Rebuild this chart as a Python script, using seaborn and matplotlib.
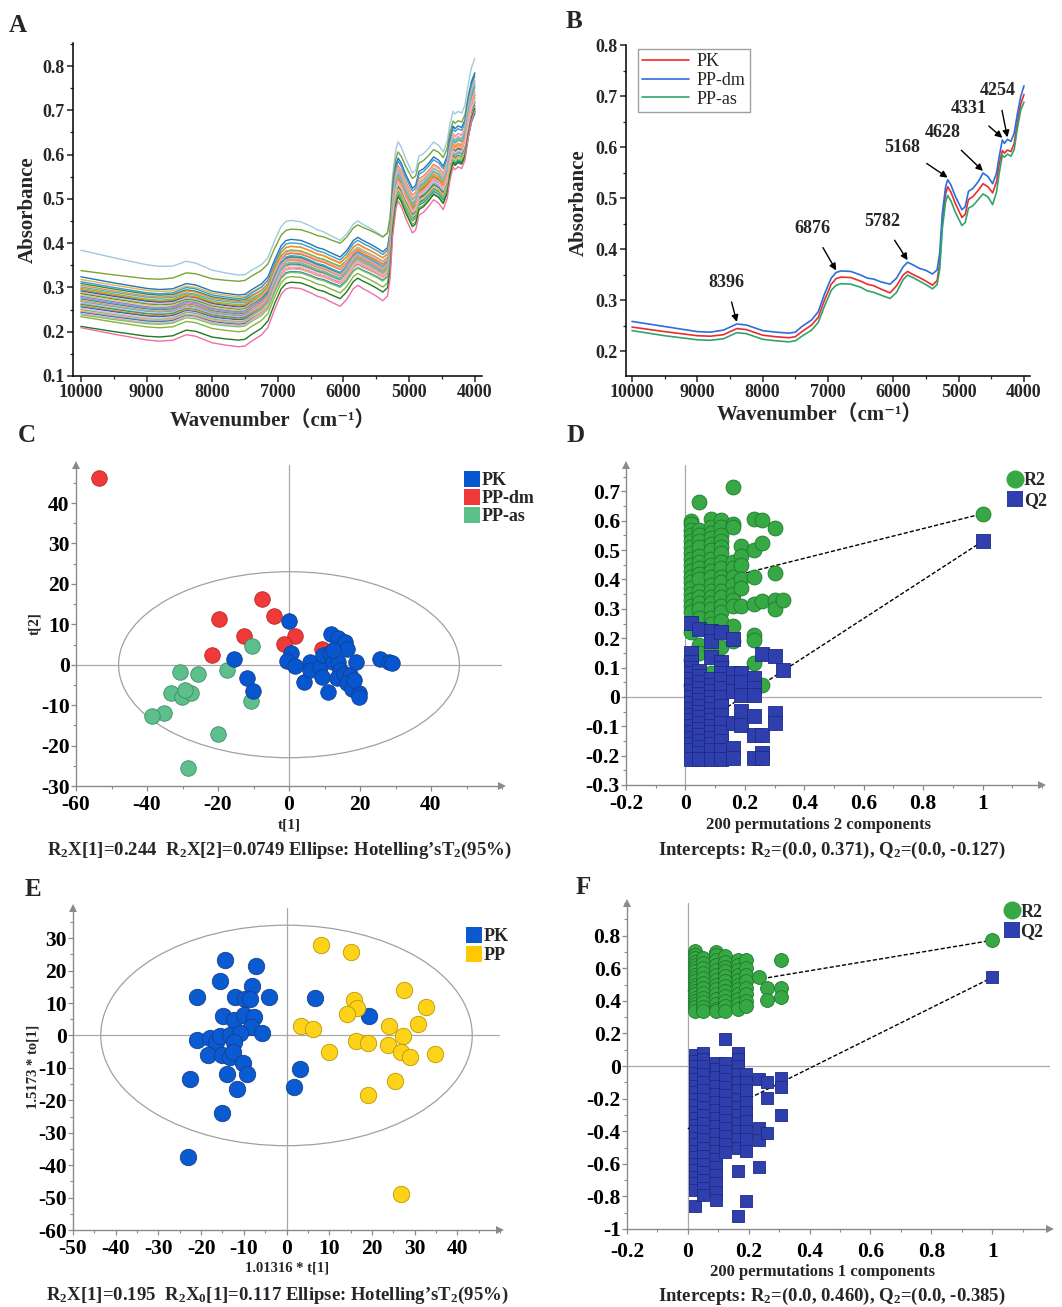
import numpy as np
import pandas as pd
import matplotlib
matplotlib.use("Agg")
import matplotlib.pyplot as plt
import seaborn as sns
from matplotlib.patches import Ellipse
from matplotlib.lines import Line2D
from matplotlib.ticker import MultipleLocator, FixedLocator, FuncFormatter

# ---------------- data ----------------
# wavenumber grid (cm-1) used for the spectra
wavenumber = [10000, 9500, 9000, 8800, 8600, 8396, 8250, 8000, 7800, 7600, 7500, 7400,
              7250, 7150, 7050, 6950, 6876, 6800, 6650, 6500, 6400, 6300, 6200, 6050,
              5950, 5850, 5782, 5700, 5600, 5500, 5400, 5330, 5290, 5250, 5200, 5168,
              5120, 5050, 4950, 4900, 4850, 4780, 4700, 4628, 4550, 4480, 4420, 4380,
              4331, 4300, 4254, 4200, 4150, 4100, 4050, 4000]

# panel B mean spectra
spec_pk = [0.247, 0.238, 0.230, 0.229, 0.232, 0.244, 0.242, 0.231, 0.228, 0.226, 0.228, 0.238,
           0.251, 0.266, 0.301, 0.331, 0.342, 0.345, 0.344, 0.337, 0.331, 0.328, 0.322, 0.314,
           0.328, 0.349, 0.356, 0.350, 0.344, 0.337, 0.329, 0.338, 0.372, 0.455, 0.508, 0.522,
           0.512, 0.489, 0.462, 0.468, 0.497, 0.503, 0.515, 0.528, 0.522, 0.510, 0.532, 0.566,
           0.593, 0.588, 0.594, 0.591, 0.607, 0.650, 0.684, 0.703]
spec_dm = [0.258, 0.248, 0.238, 0.237, 0.241, 0.253, 0.251, 0.240, 0.237, 0.235, 0.237, 0.248,
           0.261, 0.277, 0.313, 0.343, 0.354, 0.357, 0.356, 0.349, 0.343, 0.341, 0.336, 0.331,
           0.343, 0.365, 0.374, 0.369, 0.362, 0.358, 0.351, 0.359, 0.392, 0.470, 0.522, 0.536,
           0.526, 0.503, 0.477, 0.483, 0.513, 0.519, 0.532, 0.549, 0.542, 0.528, 0.549, 0.581,
           0.614, 0.607, 0.615, 0.611, 0.627, 0.666, 0.699, 0.720]
spec_as = [0.240, 0.230, 0.222, 0.221, 0.224, 0.236, 0.234, 0.223, 0.220, 0.218, 0.220, 0.229,
           0.241, 0.256, 0.289, 0.319, 0.329, 0.332, 0.331, 0.325, 0.318, 0.315, 0.310, 0.303,
           0.315, 0.340, 0.349, 0.344, 0.337, 0.330, 0.322, 0.330, 0.360, 0.440, 0.492, 0.505,
           0.495, 0.472, 0.446, 0.452, 0.480, 0.485, 0.497, 0.508, 0.502, 0.487, 0.512, 0.548,
           0.584, 0.580, 0.586, 0.582, 0.595, 0.638, 0.672, 0.688]
b_peaks = [8396, 6876, 5782, 5168, 4628, 4331, 4254]

# panel A raw spectra: absorbance read at 10000, 7600 and 5168 cm-1 for each sample
a_at_10000 = [0.384, 0.338, 0.324, 0.318, 0.313, 0.309, 0.305, 0.301, 0.298, 0.295, 0.292,
              0.289, 0.286, 0.283, 0.280, 0.277, 0.274, 0.271, 0.268, 0.265, 0.262, 0.259,
              0.256, 0.253, 0.250, 0.247, 0.244, 0.241, 0.238, 0.234, 0.212, 0.209]
a_at_7600 = [0.328, 0.314, 0.283, 0.279, 0.275, 0.271, 0.268, 0.265, 0.261, 0.258, 0.256,
             0.253, 0.250, 0.248, 0.245, 0.243, 0.240, 0.238, 0.236, 0.233, 0.231, 0.229,
             0.227, 0.224, 0.222, 0.220, 0.217, 0.214, 0.211, 0.200, 0.181, 0.166]
a_at_5168 = [0.629, 0.606, 0.592, 0.560, 0.585, 0.548, 0.575, 0.540, 0.566, 0.553, 0.530,
             0.571, 0.545, 0.525, 0.558, 0.537, 0.520, 0.550, 0.533, 0.562, 0.528, 0.543,
             0.518, 0.535, 0.555, 0.522, 0.512, 0.540, 0.516, 0.508, 0.505, 0.495]
a_colors = ['#9ecae1', '#7aa435', '#1f77b4', '#e8b04e', '#3a9bd5', '#2e8b57', '#f28e2b',
            '#5fa8d3', '#7fbf3f', '#ff7f0e', '#1b6fa8', '#f4a3c0', '#2ca02c', '#f5c26b',
            '#4f9fd8', '#e377c2', '#17a2b8', '#ff9933', '#6baed6', '#c5b0d5', '#31a354',
            '#fd8d3c', '#2171b5', '#f7b6d2', '#66c2a5', '#fdae6b', '#3182bd', '#fa9fb5',
            '#74c476', '#8ab23c', '#1e7b1e', '#f06ea9']

# panel C PCA scores
c_pk_t1 = [-0.1, -15.4, -11.7, -10.2, 0.6, -0.5, 1.7, 4.3, 5.9, 5.9, 8.8, 9.2, 10.9, 9.7,
           11.8, 13.9, 15.8, 16.3, 11.6, 12.5, 13.9, 14.4, 13.5, 15.4, 17.2, 16.3, 17.7, 18.9,
           19.6, 19.8, 25.7, 28.1, 29.0, 18.2, 12.5]
c_pk_t2 = [10.8, 1.3, -3.2, -6.5, 2.8, 1.0, -0.3, -4.2, 0.7, -1.3, -0.5, -3.0, -6.7, 2.4,
           7.7, 6.5, 5.7, 4.0, 2.8, 0.7, 0.7, -1.3, -3.4, -2.2, -2.6, -4.6, -5.9, 0.7,
           -7.1, -7.9, 1.3, 0.7, 0.5, -3.8, 3.6]
c_dm_t1 = [-53.6, -7.7, -4.1, -19.6, -12.6, 1.7, -1.4, -21.6, 9.2]
c_dm_t2 = [46.3, 16.2, 12.1, 11.2, 7.1, 7.1, 5.1, 2.5, 3.9]
c_as_t1 = [-10.3, -17.5, -30.6, -25.7, -33.3, -30.2, -27.5, -29.3, -35.2, -38.7, -10.7,
           -19.9, -28.4]
c_as_t2 = [4.6, -1.3, -1.9, -2.2, -6.9, -7.9, -6.9, -6.3, -12.0, -12.7, -9.0, -17.2, -25.6]

# panel E OPLS-DA scores
e_pk_t1 = [-14.4, -7.2, -15.6, -8.1, -21.0, -12.0, -9.7, -8.5, -4.1, 6.7, -14.9, -12.4,
           -9.9, -7.6, -8.4, 19.3, -21.0, -17.9, -16.5, -15.6, -13.2, -10.9, -5.8, -12.4,
           -18.3, -15.2, -13.2, -12.6, -10.2, -14.0, -9.3, -22.6, -11.5, 3.2, 1.7, -15.0, -23.0]
e_pk_to1 = [23.3, 21.3, 16.9, 15.3, 12.0, 11.7, 11.2, 11.2, 11.7, 11.5, 6.1, 4.8, 6.3,
            5.6, 2.7, 6.0, -1.4, -0.9, -1.9, -0.3, 0.2, 0.9, 0.7, -1.9, -6.0, -6.0, -6.8,
            -5.0, -8.6, -11.9, -11.9, -13.4, -16.5, -10.3, -15.8, -23.8, -37.6]
e_pp_t1 = [8.1, 15.0, 27.5, 32.6, 15.9, 16.4, 14.2, 3.4, 6.3, 24.0, 30.8, 27.3, 9.9, 16.3,
           19.0, 23.8, 26.9, 29.0, 34.8, 25.5, 19.1, 26.9]
e_pp_to1 = [27.9, 25.6, 13.9, 8.9, 11.0, 8.4, 6.7, 3.0, 2.0, 3.0, 3.6, -0.1, -5.0, -1.6,
            -2.4, -3.1, -5.0, -6.7, -5.7, -14.2, -18.3, -48.9]

# panel D permutation test (2 components): y values grouped by correlation column
d_cols = [0.019, 0.047, 0.087, 0.12, 0.16, 0.188, 0.23, 0.258, 0.30, 0.33]
d_r2 = [[0.60, 0.59, 0.57, 0.55, 0.53, 0.51, 0.49, 0.47, 0.45, 0.43, 0.41, 0.39, 0.37, 0.35,
         0.33, 0.31, 0.29, 0.22, 0.127, 0.04],
        [0.663, 0.57, 0.55, 0.53, 0.51, 0.48, 0.46, 0.44, 0.42, 0.40, 0.36, 0.34, 0.32, 0.30,
         0.27, 0.178, 0.15],
        [0.606, 0.58, 0.56, 0.54, 0.52, 0.50, 0.47, 0.45, 0.43, 0.41, 0.38, 0.36, 0.34, 0.32,
         0.30, 0.27, 0.25, 0.16, 0.082],
        [0.604, 0.58, 0.55, 0.53, 0.51, 0.49, 0.46, 0.44, 0.41, 0.39, 0.36, 0.34, 0.31, 0.29,
         0.26, 0.17, 0.12],
        [0.715, 0.59, 0.58, 0.46, 0.44, 0.41, 0.38, 0.35, 0.33, 0.31, 0.24, 0.19],
        [0.513, 0.48, 0.45, 0.40, 0.37, 0.309],
        [0.606, 0.50, 0.41, 0.317, 0.212, 0.195, 0.116],
        [0.604, 0.524, 0.326, 0.042],
        [0.575, 0.422, 0.33, 0.30],
        [0.33]]
d_q2 = [[0.252, 0.15, 0.12, 0.10, 0.08, 0.06, 0.04, 0.02, 0.0, -0.02, -0.04, -0.06, -0.08,
         -0.10, -0.12, -0.14, -0.16, -0.18, -0.21],
        [0.23, 0.09, 0.07, 0.05, 0.03, 0.01, -0.01, -0.03, -0.05, -0.07, -0.09, -0.11, -0.13,
         -0.15, -0.17, -0.19, -0.21],
        [0.224, 0.19, 0.136, 0.06, 0.04, 0.02, 0.0, -0.02, -0.04, -0.06, -0.08, -0.10, -0.12,
         -0.14, -0.16, -0.18, -0.21],
        [0.22, 0.12, 0.10, 0.08, 0.06, 0.03, 0.0, -0.03, -0.06, -0.09, -0.12, -0.15, -0.18,
         -0.21],
        [0.198, 0.08, 0.05, 0.02, -0.088, -0.173, -0.207],
        [0.08, 0.05, 0.008, -0.048, -0.094],
        [0.065, 0.03, 0.008, -0.065, -0.128, -0.207],
        [0.147, -0.128, -0.19, -0.207],
        [0.139, -0.054, -0.088],
        [0.091]]
d_model = {'R2': 0.624, 'Q2': 0.530}
d_intercept = {'R2': 0.371, 'Q2': -0.127}

# panel F permutation test (1 component)
f_cols = [0.022, 0.049, 0.093, 0.122, 0.165, 0.192, 0.234, 0.261, 0.305]
f_r2 = [[0.704, 0.68, 0.66, 0.64, 0.62, 0.60, 0.58, 0.56, 0.54, 0.52, 0.50, 0.48, 0.46, 0.44,
         0.42, 0.40, 0.38, 0.36, 0.34],
        [0.66, 0.63, 0.60, 0.57, 0.54, 0.51, 0.48, 0.45, 0.42, 0.39, 0.36, 0.335],
        [0.70, 0.68, 0.65, 0.62, 0.59, 0.56, 0.53, 0.50, 0.47, 0.44, 0.41, 0.38, 0.35, 0.335],
        [0.673, 0.64, 0.61, 0.58, 0.55, 0.52, 0.49, 0.46, 0.43, 0.40, 0.37, 0.34],
        [0.649, 0.62, 0.59, 0.56, 0.53, 0.50, 0.47, 0.44, 0.41, 0.38, 0.35],
        [0.653, 0.60, 0.56, 0.52, 0.48, 0.44, 0.40, 0.37],
        [0.543],
        [0.476, 0.404],
        [0.649, 0.476, 0.424]]
f_q2 = [[0.067, 0.03, 0.0, -0.04, -0.08, -0.12, -0.16, -0.20, -0.24, -0.28, -0.32, -0.36,
         -0.40, -0.44, -0.48, -0.52, -0.56, -0.60, -0.64, -0.68, -0.72, -0.76, -0.861],
        [0.082, 0.04, 0.0, -0.05, -0.10, -0.15, -0.20, -0.25, -0.30, -0.35, -0.40, -0.45,
         -0.50, -0.55, -0.60, -0.65, -0.70, -0.75, -0.79],
        [0.02, -0.02, -0.07, -0.12, -0.17, -0.22, -0.27, -0.32, -0.37, -0.42, -0.47, -0.52,
         -0.57, -0.62, -0.67, -0.72, -0.77, -0.82],
        [0.163, 0.02, -0.03, -0.08, -0.13, -0.18, -0.23, -0.28, -0.33, -0.38, -0.43, -0.48,
         -0.53],
        [0.078, 0.04, 0.0, -0.05, -0.10, -0.15, -0.20, -0.25, -0.30, -0.35, -0.40, -0.45,
         -0.50, -0.647, -0.918],
        [-0.05, -0.10, -0.15, -0.22, -0.28, -0.34, -0.40, -0.45, -0.524, -0.83],
        [-0.082, -0.382, -0.453, -0.622],
        [-0.096, -0.198, -0.412],
        [-0.076, -0.127, -0.30]]
f_model = {'R2': 0.771, 'Q2': 0.543}
f_intercept = {'R2': 0.460, 'Q2': -0.385}

# ---------------- style ----------------
sns.set_style("ticks")
plt.rcParams['font.family'] = ['Liberation Serif', 'DejaVu Serif', 'Noto Sans CJK SC']
plt.rcParams['font.weight'] = 'bold'
plt.rcParams['axes.unicode_minus'] = False
plt.rcParams['mathtext.fontset'] = 'custom'
plt.rcParams['mathtext.rm'] = 'Liberation Serif:bold'
plt.rcParams['mathtext.it'] = 'Liberation Serif:bold'
plt.rcParams['mathtext.bf'] = 'Liberation Serif:bold'

W, H = 1062, 1307
fig = plt.figure(figsize=(W / 100, H / 100), dpi=100)


def box(l, t, r, b):
    return [l / W, 1 - b / H, (r - l) / W, (b - t) / H]


def ftext(x, y, s, **kw):
    kw.setdefault('ha', 'center')
    kw.setdefault('va', 'center')
    kw.setdefault('fontweight', 'bold')
    fig.text(x / W, 1 - y / H, s, **kw)


def gfmt(v, pos):
    v = round(v, 6)
    if v == 0:
        return '0'
    return f'{v:g}'


def spec_axes(ax):
    for s in ['top', 'right']:
        ax.spines[s].set_visible(False)
    for s in ['left', 'bottom']:
        ax.spines[s].set_color('black')
        ax.spines[s].set_linewidth(1.1)
    ax.xaxis.set_major_locator(MultipleLocator(1000))
    ax.xaxis.set_minor_locator(MultipleLocator(500))
    ax.yaxis.set_minor_locator(MultipleLocator(0.05))
    ax.xaxis.set_major_formatter(FuncFormatter(gfmt))
    ax.yaxis.set_major_formatter(FuncFormatter(gfmt))
    ax.tick_params(which='major', direction='out', length=4, width=1.1, labelsize=13, pad=2)
    ax.tick_params(which='minor', direction='out', length=2.5, width=0.9)
    ax.set_xlabel('')
    ax.set_ylabel('')


def arrow_axes(ax, xticks, xmin, yticks, ymin, xpad=3):
    for s in ['top', 'right']:
        ax.spines[s].set_visible(False)
    for s in ['left', 'bottom']:
        ax.spines[s].set_color('#8a8a8a')
        ax.spines[s].set_linewidth(1.0)
    ax.xaxis.set_major_locator(FixedLocator(xticks))
    ax.xaxis.set_minor_locator(MultipleLocator(xmin))
    ax.yaxis.set_major_locator(FixedLocator(yticks))
    ax.yaxis.set_minor_locator(MultipleLocator(ymin))
    ax.xaxis.set_major_formatter(FuncFormatter(gfmt))
    ax.yaxis.set_major_formatter(FuncFormatter(gfmt))
    ax.tick_params(which='major', direction='out', length=3.5, width=0.9, color='#8a8a8a',
                   labelsize=15.5, labelcolor='black', pad=1)
    ax.tick_params(axis='x', which='major', pad=xpad)
    ax.tick_params(which='minor', direction='out', length=2, width=0.8, color='#8a8a8a')
    ax.plot(1, 0, marker='>', transform=ax.transAxes, clip_on=False, color='#8a8a8a',
            ms=6, mew=0)
    ax.plot(0, 1, marker='^', transform=ax.transAxes, clip_on=False, color='#8a8a8a',
            ms=6, mew=0)
    ax.axhline(0, color='#a8a8a8', lw=0.9, zorder=0)
    ax.axvline(0, color='#a8a8a8', lw=0.9, zorder=0)
    ax.set_xlabel('')
    ax.set_ylabel('')


# ---------------- A: raw spectra ----------------
axA = fig.add_axes(box(73, 43, 482, 376))
base = np.array(spec_pk)
tilt = (np.array(wavenumber) - 4000) / 6000
idx = [wavenumber.index(10000), wavenumber.index(7600), wavenumber.index(5168)]
M = np.array([[1.0, base[i], tilt[i]] for i in idx])
frames = []
for k, vals in enumerate(zip(a_at_10000, a_at_7600, a_at_5168)):
    c0, c1, c2 = np.linalg.solve(M, np.array(vals))
    frames.append(pd.DataFrame({'wn': wavenumber, 'abs': c0 + c1 * base + c2 * tilt,
                                'sample': f's{k:02d}'}))
dfa = pd.concat(frames, ignore_index=True)
sns.lineplot(data=dfa, x='wn', y='abs', hue='sample', palette=a_colors, estimator=None,
             sort=False, legend=False, lw=1.0, ax=axA)
axA.set_xlim(10120, 3890)
axA.set_ylim(0.1, 0.852)
spec_axes(axA)

# ---------------- B: mean spectra ----------------
axB = fig.add_axes(box(626, 45, 1030, 376))
dfb = pd.concat([pd.DataFrame({'wn': wavenumber, 'abs': v, 'group': g})
                 for g, v in [('PK', spec_pk), ('PP-dm', spec_dm), ('PP-as', spec_as)]],
                ignore_index=True)
sns.lineplot(data=dfb, x='wn', y='abs', hue='group',
             palette={'PK': '#ee2b2b', 'PP-dm': '#2a6fdc', 'PP-as': '#2fa56d'},
             estimator=None, sort=False, lw=1.2, ax=axB)
axB.set_xlim(10092, 3908)
axB.set_ylim(0.151, 0.8)
spec_axes(axB)
sns.move_legend(axB, 'upper left', bbox_to_anchor=(0.02, 1.0), title=None, frameon=True,
                fancybox=False, edgecolor='#888888', prop={'weight': 'normal', 'size': 13},
                handlelength=2.6, handletextpad=0.4, labelspacing=0.1, borderpad=0.25,
                borderaxespad=0.2)
wn_rev = np.array(wavenumber[::-1])
dm_rev = np.array(spec_dm[::-1])
text_pos = [(8556, 0.335), (7245, 0.440), (6168, 0.454), (5862, 0.600), (5240, 0.628),
            (4842, 0.675), (4398, 0.711)]
for pk, (tx, ty) in zip(b_peaks, text_pos):
    tip = np.interp(pk, wn_rev, dm_rev) + 0.004
    axB.annotate(str(pk), xy=(pk, tip), xytext=(tx, ty), ha='center', va='center',
                 fontsize=13, fontweight='bold',
                 arrowprops=dict(arrowstyle='-|>', color='black', lw=1.0,
                                 mutation_scale=10, shrinkA=6, shrinkB=0))

# ---------------- C: PCA ----------------
axC = fig.add_axes(box(76, 465, 502, 786))
axC.add_patch(Ellipse((0, 0), 96, 46, fill=False, edgecolor='#a0a0a0', lw=0.9, zorder=0))
c_groups = [('PP-dm', c_dm_t1, c_dm_t2, '#f03a3a', '#b82424'),
            ('PP-as', c_as_t1, c_as_t2, '#5cbf8c', '#3c8f66'),
            ('PK', c_pk_t1, c_pk_t2, '#0656d0', '#163e8e')]
for name, xs, ys, fc, ec in c_groups:
    sns.scatterplot(x=xs, y=ys, color=fc, edgecolor=ec, linewidth=0.6, s=125, ax=axC,
                    zorder=3)
axC.set_xlim(-60, 60)
axC.set_ylim(-30, 49.4)
arrow_axes(axC, [-60, -40, -20, 0, 20, 40], 10, [-30, -20, -10, 0, 10, 20, 30, 40], 5)
axC.legend(handles=[Line2D([], [], ls='', marker='s', ms=12, color=c, mew=0)
                    for c in ['#0656d0', '#f03a3a', '#5cbf8c']],
           labels=['PK', 'PP-dm', 'PP-as'], loc='upper left', bbox_to_anchor=(0.895, 1.0),
           frameon=False, handlelength=0.8, handletextpad=0.15, labelspacing=0.05,
           borderaxespad=0.0, prop={'weight': 'bold', 'size': 13})

# ---------------- D: permutations (2 comps) ----------------
def perm_panel(ax, cols, r2, q2, model, intercept, ms):
    r2x = [c for c, ys in zip(cols, r2) for _ in ys] + [1.0]
    r2y = [y for ys in r2 for y in ys] + [model['R2']]
    q2x = [c for c, ys in zip(cols, q2) for _ in ys] + [1.0]
    q2y = [y for ys in q2 for y in ys] + [model['Q2']]
    for key in ['R2', 'Q2']:
        ax.plot([0, 1], [intercept[key], model[key]], ls=(0, (3, 1.5)), color='black',
                lw=1.0, zorder=1)
    sns.scatterplot(x=r2x, y=r2y, marker='o', color='#36a844', edgecolor='#1f7a2c',
                    linewidth=0.6, s=ms, ax=ax, zorder=2)
    sns.scatterplot(x=q2x, y=q2y, marker='s', color='#2f3fae', edgecolor='#1d2b85',
                    linewidth=0.6, s=ms * 0.85, ax=ax, zorder=3)


axD = fig.add_axes(box(626, 465, 1042, 785))
perm_panel(axD, d_cols, d_r2, d_q2, d_model, d_intercept, 115)
axD.set_xlim(-0.2, 1.2)
axD.set_ylim(-0.3, 0.79)
arrow_axes(axD, [-0.2, 0, 0.2, 0.4, 0.6, 0.8, 1.0], 0.1,
           [-0.3, -0.2, -0.1, 0, 0.1, 0.2, 0.3, 0.4, 0.5, 0.6, 0.7], 0.05)
axD.legend(handles=[Line2D([], [], ls='', marker='o', ms=13, color='#36a844', mew=0),
                    Line2D([], [], ls='', marker='s', ms=12, color='#2f3fae', mew=0)],
           labels=['R2', 'Q2'], loc='upper left', bbox_to_anchor=(0.9, 1.0),
           frameon=False, handlelength=0.8, handletextpad=0.1, labelspacing=0.15,
           borderaxespad=0.0, prop={'weight': 'bold', 'size': 13})

# ---------------- E: OPLS-DA ----------------
axE = fig.add_axes(box(73, 908, 500, 1230))
axE.add_patch(Ellipse((0, 0), 87, 68, fill=False, edgecolor='#a0a0a0', lw=0.9, zorder=0))
sns.scatterplot(x=e_pk_t1, y=e_pk_to1, color='#0a5ad2', edgecolor='#173f8c', linewidth=0.6,
                s=140, ax=axE, zorder=3)
sns.scatterplot(x=e_pp_t1, y=e_pp_to1, color='#ffd21a', edgecolor='#b99800', linewidth=0.6,
                s=140, ax=axE, zorder=3)
axE.set_xlim(-50, 50)
axE.set_ylim(-60, 39.3)
arrow_axes(axE, [-50, -40, -30, -20, -10, 0, 10, 20, 30, 40], 5,
           [-60, -50, -40, -30, -20, -10, 0, 10, 20, 30], 5)
axE.legend(handles=[Line2D([], [], ls='', marker='s', ms=12, color=c, mew=0)
                    for c in ['#0a5ad2', '#ffc800']],
           labels=['PK', 'PP'], loc='upper left', bbox_to_anchor=(0.905, 0.96),
           frameon=False, handlelength=0.8, handletextpad=0.15, labelspacing=0.1,
           borderaxespad=0.0, prop={'weight': 'bold', 'size': 13})

# ---------------- F: permutations (1 comp) ----------------
axF = fig.add_axes(box(627, 903, 1050, 1229))
perm_panel(axF, f_cols, f_r2, f_q2, f_model, f_intercept, 100)
axF.set_xlim(-0.2, 1.19)
axF.set_ylim(-1.0, 1.0)
arrow_axes(axF, [-0.2, 0, 0.2, 0.4, 0.6, 0.8, 1.0], 0.1,
           [-1.0, -0.8, -0.6, -0.4, -0.2, 0, 0.2, 0.4, 0.6, 0.8], 0.1, xpad=6)
axF.legend(handles=[Line2D([], [], ls='', marker='o', ms=13, color='#36a844', mew=0),
                    Line2D([], [], ls='', marker='s', ms=12, color='#2f3fae', mew=0)],
           labels=['R2', 'Q2'], loc='upper left', bbox_to_anchor=(0.875, 1.02),
           frameon=False, handlelength=0.8, handletextpad=0.1, labelspacing=0.15,
           borderaxespad=0.0, prop={'weight': 'bold', 'size': 13})

# ---------------- texts ----------------
for letter, x, y in [('A', 18, 25), ('B', 574, 21), ('C', 27, 436), ('D', 576, 435),
                     ('E', 33, 890), ('F', 583, 888)]:
    ftext(x, y, letter, fontsize=18)

ftext(28, 210, 'Absorbance', fontsize=15, rotation=90)
ftext(579, 203, 'Absorbance', fontsize=15, rotation=90)
ftext(273, 421, 'Wavenumber（cm⁻¹）', fontsize=15)
ftext(820, 415, 'Wavenumber（cm⁻¹）', fontsize=15)

ftext(35, 624, 't[2]', fontsize=11, rotation=90)
ftext(289, 825, 't[1]', fontsize=11)
ftext(279, 850, "R$_2$X[1]=0.244  R$_2$X[2]=0.0749 Ellipse: Hotelling’sT$_2$(95%)",
      fontsize=13.5)
ftext(818, 825, '200 permutations 2 components', fontsize=12)
ftext(832, 850, 'Intercepts: R$_2$=(0.0, 0.371), Q$_2$=(0.0, -0.127)', fontsize=13.5)

ftext(33, 1067, '1.5173 * to[1]', fontsize=10.5, rotation=90)
ftext(287, 1268, '1.01316 * t[1]', fontsize=10.5)
ftext(277, 1295, "R$_2$X[1]=0.195  R$_2$X$_0$[1]=0.117 Ellipse: Hotelling’sT$_2$(95%)",
      fontsize=13.5)
ftext(823, 1272, '200 permutations 1 components', fontsize=12)
ftext(832, 1296, 'Intercepts: R$_2$=(0.0, 0.460), Q$_2$=(0.0, -0.385)', fontsize=13.5)

fig.savefig('out.png', dpi=100)
